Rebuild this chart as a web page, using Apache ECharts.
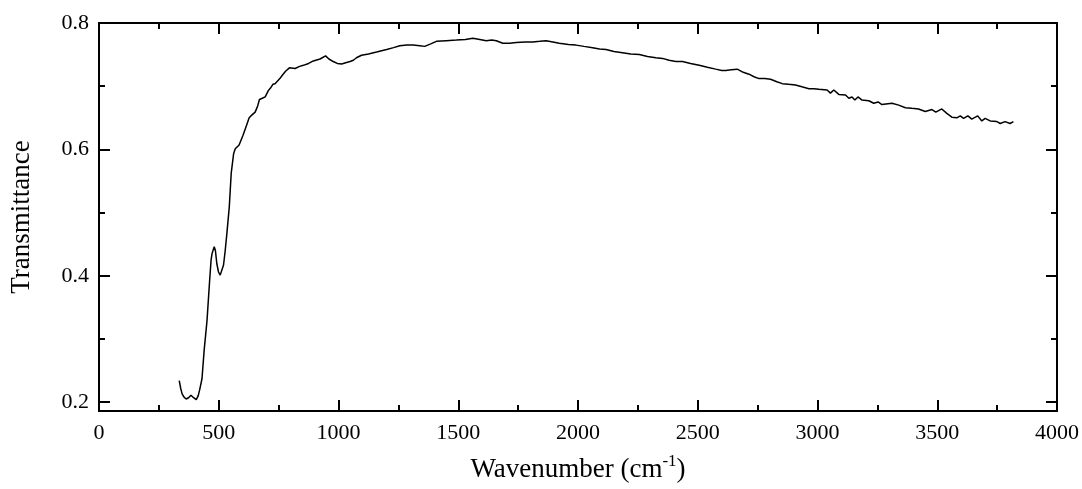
<!DOCTYPE html>
<html>
<head>
<meta charset="utf-8">
<script src="https://cdn.jsdelivr.net/npm/echarts@6/dist/echarts.min.js"></script>
<style>
html,body{margin:0;padding:0;background:#fff;}
#chart{width:1082px;height:489px;}
</style>
</head>
<body>
<div id="chart"></div>
<script>
var wavenumber = [335,341,347,355,364,374,384,395,406,414,420,430,439,451,462,468,472,481,486,492,499,506,513,520,527,534,544,552,562,569,585,601,614,627,640,652,662,670,682,694,707,716,726,735,742,755,767,780,795,819,835,853,875,895,923,946,960,978,995,1013,1030,1048,1062,1075,1096,1125,1159,1180,1201,1230,1256,1285,1311,1340,1360,1385,1409,1450,1492,1530,1561,1590,1617,1640,1659,1686,1715,1742,1780,1811,1840,1867,1895,1922,1960,1992,2025,2061,2090,2117,2150,2186,2220,2256,2290,2325,2353,2380,2409,2436,2470,2506,2540,2575,2600,2617,2640,2665,2690,2714,2735,2756,2780,2804,2830,2853,2880,2908,2935,2964,2985,3006,3040,3054,3068,3089,3117,3131,3144,3156,3169,3186,3214,3235,3253,3269,3311,3339,3367,3394,3422,3450,3478,3494,3519,3540,3561,3582,3596,3610,3628,3644,3669,3686,3700,3721,3749,3763,3783,3804,3818];
var transmittance = [0.234,0.222,0.213,0.208,0.205,0.207,0.211,0.207,0.204,0.210,0.219,0.237,0.282,0.329,0.393,0.425,0.435,0.446,0.440,0.419,0.406,0.401,0.404,0.417,0.440,0.467,0.509,0.562,0.593,0.601,0.607,0.622,0.636,0.650,0.655,0.659,0.668,0.679,0.681,0.683,0.693,0.697,0.703,0.704,0.707,0.712,0.718,0.724,0.729,0.728,0.731,0.733,0.736,0.740,0.743,0.748,0.743,0.739,0.736,0.735,0.737,0.739,0.741,0.745,0.749,0.751,0.754,0.756,0.758,0.761,0.764,0.765,0.765,0.764,0.763,0.767,0.771,0.772,0.773,0.774,0.776,0.774,0.772,0.773,0.772,0.768,0.768,0.769,0.770,0.770,0.771,0.772,0.770,0.768,0.766,0.765,0.763,0.761,0.759,0.758,0.755,0.753,0.751,0.750,0.747,0.745,0.744,0.741,0.739,0.739,0.736,0.733,0.730,0.727,0.725,0.725,0.726,0.727,0.722,0.719,0.715,0.712,0.712,0.711,0.707,0.704,0.703,0.702,0.699,0.696,0.696,0.695,0.694,0.689,0.694,0.687,0.686,0.681,0.683,0.678,0.683,0.678,0.677,0.673,0.675,0.671,0.673,0.670,0.666,0.665,0.664,0.660,0.663,0.659,0.664,0.657,0.651,0.650,0.653,0.649,0.653,0.648,0.653,0.645,0.649,0.645,0.644,0.641,0.644,0.641,0.644];
var yMajorTicks = [0.2,0.4,0.6,0.8];
var yMinorTicks = [0.3,0.5,0.7];
var xTitle = '{a|Wavenumber (cm}{s|-1}{a|)}';
var yTitle = 'Transmittance';

var font = 'Liberation Serif';
var black = '#000';
var chart = echarts.init(document.getElementById('chart'));
var data = wavenumber.map(function(w,i){return [w, transmittance[i]];});
var lineStyle = {color: black, width: 2};

function xAx(pos, labels){
  return {
    type: 'value', position: pos, min: 0, max: 4000, interval: 500,
    axisLine: {show: true, onZero: false, lineStyle: lineStyle},
    axisTick: {show: true, inside: true, length: 11, lineStyle: {color: black, width: 2}},
    minorTick: {show: true, splitNumber: 2, length: 6, lineStyle: {color: black, width: 2}},
    splitLine: {show: false},
    axisLabel: {show: labels, color: black, fontFamily: font, fontSize: 22, margin: 11,
      formatter: function(v){ return String(v); }},
    name: labels ? xTitle : '',
    nameLocation: 'middle', nameGap: 42,
    nameTextStyle: {
      rich: {
        a: {fontFamily: font, fontSize: 27, color: black, lineHeight: 30, verticalAlign: 'bottom'},
        s: {fontFamily: font, fontSize: 17, color: black, lineHeight: 30, verticalAlign: 'top', padding: [0,0,14,0]}
      }
    }
  };
}
function yAx(pos, ticks, len, labels){
  return {
    type: 'value', position: pos, min: 0.186, max: 0.8,
    axisLine: {show: true, onZero: false, lineStyle: lineStyle},
    axisTick: {show: true, inside: true, length: len, customValues: ticks, lineStyle: {color: black, width: 2}},
    splitLine: {show: false},
    axisLabel: {show: labels, customValues: ticks, color: black, fontFamily: font, fontSize: 22, margin: 10},
    name: labels ? yTitle : '',
    nameLocation: 'middle', nameGap: 64, nameRotate: 90,
    nameTextStyle: {fontFamily: font, fontSize: 27, color: black}
  };
}

chart.setOption({
  backgroundColor: '#fff',
  animation: false,
  grid: {left: 98, right: 23, top: 23, bottom: 78, containLabel: false},
  xAxis: [xAx('bottom', true), xAx('top', false)],
  yAxis: [
    yAx('left', yMajorTicks, 11, true),
    yAx('left', yMinorTicks, 6, false),
    yAx('right', yMajorTicks, 11, false),
    yAx('right', yMinorTicks, 6, false)
  ],
  series: [{
    type: 'line', xAxisIndex: 0, yAxisIndex: 0,
    data: data, showSymbol: false, symbol: 'none', smooth: false,
    lineStyle: {color: black, width: 1.5}
  }]
});
</script>
</body>
</html>
